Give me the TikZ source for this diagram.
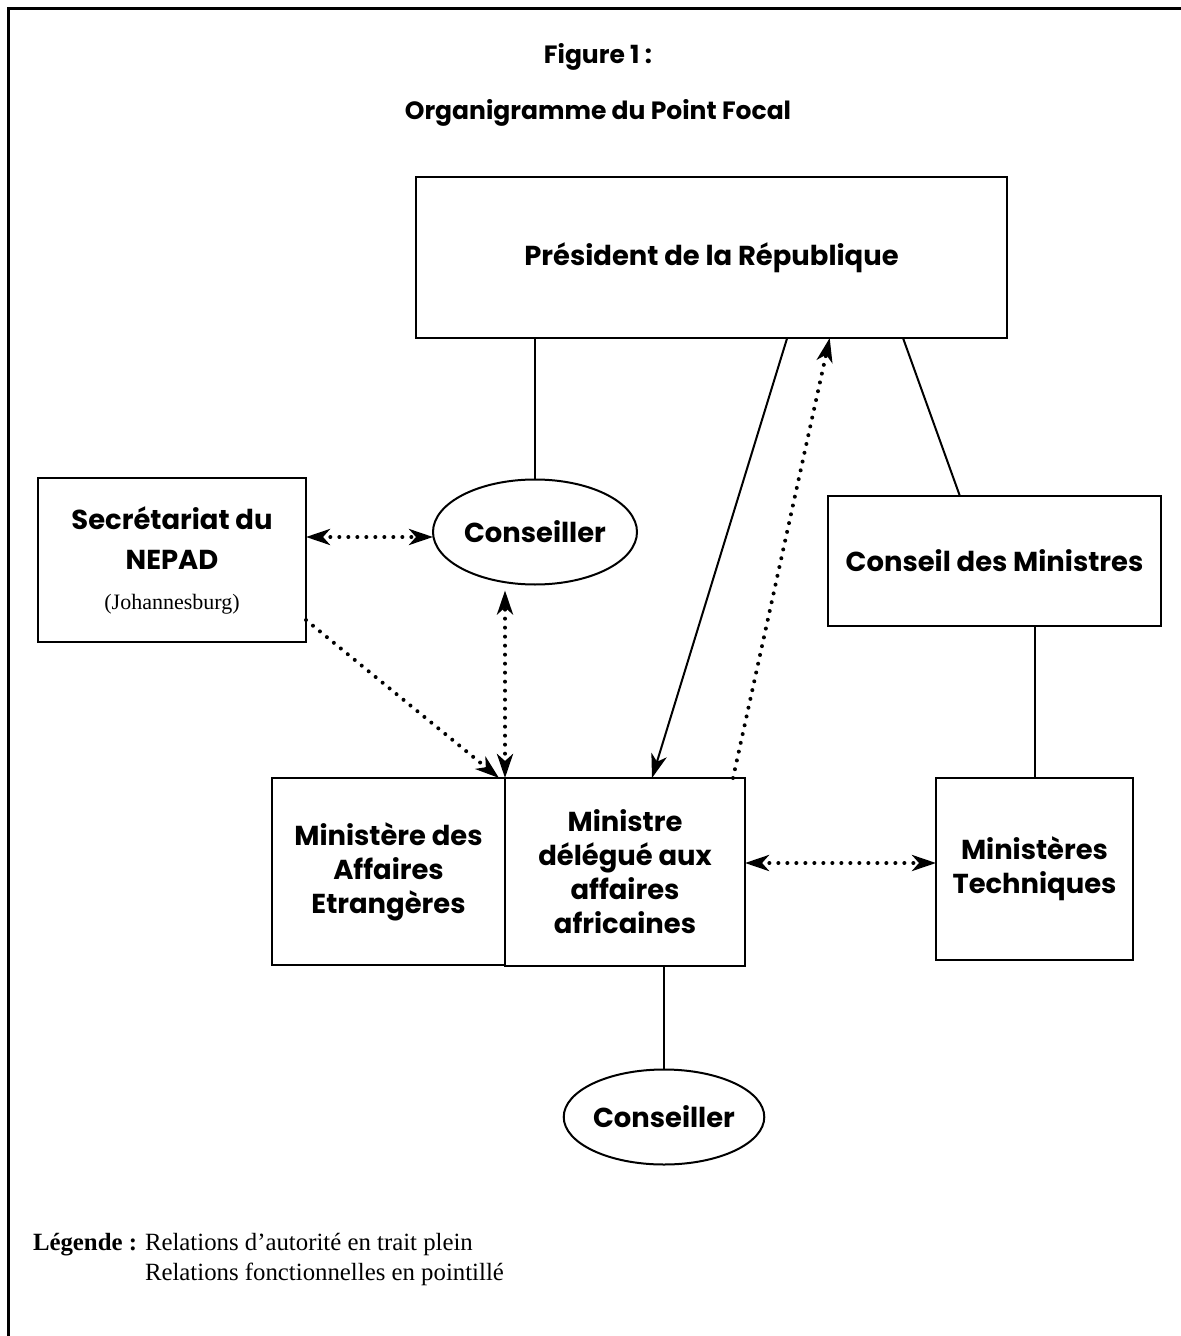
\documentclass[tikz,border=0pt]{standalone}
\usepackage{fontspec}
\setmainfont{Poppins}
\newfontfamily\legendfont{Liberation Serif}
\usetikzlibrary{arrows.meta,shapes.geometric,calc}

\begin{document}
\begin{tikzpicture}[x=0.5pt, y=-0.5pt,
    every node/.style={inner sep=0pt, outer sep=0pt, align=center, font=\bfseries\fontsize{13.7}{17}\selectfont},
    box/.style={draw, line width=1pt},
    oval/.style={draw, ellipse, line width=1pt},
    plain/.style={line width=1pt},
    dots/.style={line width=2pt, line cap=round, dash pattern=on 0pt off 4.5pt},
    tip/.style={-{Stealth[length=12pt, width=8pt, inset=3.5pt]}},
    tips/.style={{Stealth[length=12pt, width=8pt, inset=3.5pt]}-{Stealth[length=12pt, width=8pt, inset=3.5pt]}},
    legend/.style={font=\legendfont\fontsize{12.4}{15}\selectfont, anchor=base west}]
    \useasboundingbox (0,0) rectangle (1181,1336);
    \draw[line width=1.5pt] (8,1336) -- (8,9) -- (1181,9);

    \node[font=\bfseries\fontsize{12.5}{15}\selectfont] (fig) at (598,57) {Figure 1 :};
    \node[font=\bfseries\fontsize{12.5}{15}\selectfont] (titre) at (598,113) {Organigramme du Point Focal};

    \node[box, minimum width=295.5pt, minimum height=80.5pt] (pres) at (711.5,257.5) {Président de la République};
    \node[oval, minimum width=102pt, minimum height=52.5pt] (cons1) at (535,532) {Conseiller};
    \node[box, minimum width=134pt, minimum height=82pt, font=\bfseries\fontsize{13.7}{20}\selectfont] (sec) at (172,560)
        {Secrétariat du\\NEPAD\\{\mdseries\legendfont\fontsize{11}{20}\selectfont (Johannesburg)}};
    \node[box, minimum width=166.5pt, minimum height=65pt] (conseil) at (994.5,561) {Conseil des Ministres};
    \node[box, minimum width=116.5pt, minimum height=93.5pt] (mae) at (388.5,871.5) {Ministère des\\Affaires\\Etrangères};
    \node[box, minimum width=120pt, minimum height=94pt] (mdaa) at (625,872) {Ministre\\délégué aux\\affaires\\africaines};
    \node[box, minimum width=98.5pt, minimum height=91pt] (mt) at (1034.5,869) {Ministères\\Techniques};
    \node[oval, minimum width=98pt, minimum height=47.5pt] (cons2) at (664,1117) {Conseiller};

    % trait plein
    \draw[plain] (cons1.north |- pres.south) -- (cons1.north);
    \draw[plain] ($(pres.south west)!0.824!(pres.south east)$) -- ($(conseil.north west)!0.396!(conseil.north east)$);
    \draw[plain] (mt.north |- conseil.south) -- (mt.north);
    \draw[plain] (cons2.north |- mdaa.south) -- (cons2.north);
    \draw[plain, tip] ($(pres.south west)!0.628!(pres.south east)$) -- ($(mdaa.north west)!0.6125!(mdaa.north east)$);

    % pointille
    \draw[dots, tip] ($(mdaa.north west)!0.95!(mdaa.north east)$) -- ($(pres.south west)!0.70!(pres.south east)$);
    \coordinate (a) at ([yshift=-2.5pt]cons1.west);
    \draw[dots, tips] (sec.east |- a) -- (a);
    \draw[dots, tips] (mdaa.north west) -- ([yshift=-3pt]mdaa.north west |- cons1.south);
    \draw[dots, tip] ([yshift=11pt]sec.south east) -- ([xshift=-3pt]mdaa.north west);
    \coordinate (h) at ([yshift=4.5pt]mdaa.east);
    \draw[dots, tips] (h) -- (h -| mt.west);

    \node[legend] (leg) at (33,1250) {\bfseries Légende :};
    \node[legend] (leg1) at (145,1250) {Relations d’autorité en trait plein};
    \node[legend] (leg2) at (145,1280) {Relations fonctionnelles en pointillé};
\end{tikzpicture}
\end{document}
